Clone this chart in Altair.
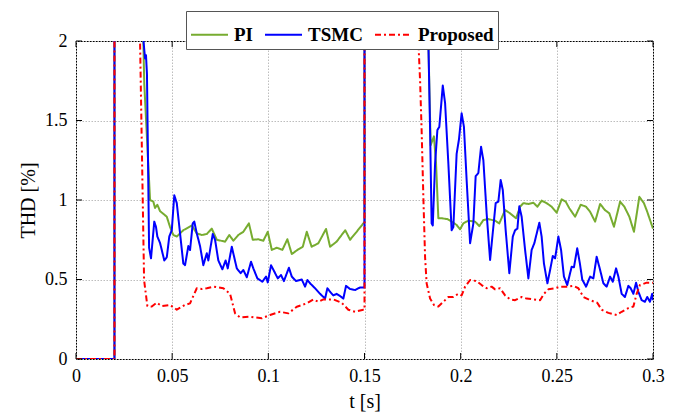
import altair as alt
import pandas as pd

OFF = 3.0  # above the visible range (clipped)
SERIF = "Liberation Serif"

series_names = ["PI", "TSMC", "Proposed"]
series_colors = ["#77AC30", "#0000FF", "#FF0000"]
series_dash = [[1, 0], [1, 0], [6, 3, 2, 3]]

pi_t = [0, 0.02, 0.02, 0.0347, 0.0350, 0.0355, 0.0385, 0.0402, 0.0411, 0.0423, 0.0437, 0.0472, 0.0489, 0.0506,
        0.0524, 0.0558, 0.0602, 0.0628, 0.0654, 0.0680, 0.0706, 0.0732, 0.0775, 0.0797, 0.0818, 0.0844, 0.0870,
        0.0899, 0.0919, 0.0948, 0.0974, 0.0997, 0.1018, 0.1044, 0.1073, 0.1099, 0.1122, 0.1156, 0.1179, 0.1200,
        0.1225, 0.1260, 0.1300, 0.1321, 0.1355, 0.1400, 0.1425, 0.1459, 0.1494, 0.15, 0.15,
        0.1828, 0.1832, 0.1844, 0.1861, 0.1872, 0.1884, 0.1901, 0.1931, 0.1953, 0.1979, 0.1997, 0.2014, 0.2040,
        0.2075, 0.2097, 0.2118, 0.2144, 0.2179, 0.2201, 0.2231, 0.2257, 0.2288, 0.2309, 0.2326, 0.2352, 0.2378,
        0.2399, 0.2421, 0.2447, 0.2473, 0.2499, 0.2525, 0.2546, 0.2565, 0.2595, 0.2624, 0.2652, 0.2673, 0.2699,
        0.2725, 0.2750, 0.2773, 0.2797, 0.2829, 0.2851, 0.2877, 0.2901, 0.2929, 0.2953, 0.2970, 0.3000]
pi_v = [0, 0, OFF, OFF, 2.0, 1.73, 1.0, 0.99, 0.95, 0.97, 0.93, 0.895, 0.83, 0.78,
        0.77, 0.81, 0.84, 0.79, 0.78, 0.786, 0.82, 0.75, 0.738, 0.78, 0.744, 0.78, 0.80,
        0.853, 0.75, 0.753, 0.744, 0.80, 0.686, 0.70, 0.686, 0.753, 0.66, 0.69, 0.706, 0.80,
        0.706, 0.728, 0.818, 0.706, 0.738, 0.81, 0.75, 0.80, 0.853, 0.86, OFF,
        OFF, 2.0, 1.345, 1.40, 1.23, 0.885, 0.885, 0.88, 0.864, 0.843, 0.816, 0.853, 0.87,
        0.864, 0.836, 0.874, 0.88, 0.87, 0.853, 0.937, 0.916, 0.885, 0.958, 0.98, 0.975, 0.983,
        0.958, 0.996, 0.98, 0.958, 0.92, 1.004, 0.99, 0.948, 0.895, 0.97, 0.958, 0.926, 0.864,
        0.975, 0.937, 0.916, 0.832, 0.99, 0.958, 0.895, 0.80, 1.02, 0.98, 0.926, 0.82]

tsmc_t = [0, 0.02, 0.02, 0.0347, 0.0351, 0.0359, 0.0364, 0.0369, 0.0380, 0.0390, 0.0407, 0.0416, 0.0423, 0.0437,
          0.0459, 0.0472, 0.0485, 0.0498, 0.0511, 0.0524, 0.0541, 0.0558, 0.0567, 0.0584, 0.0593, 0.0607, 0.0615,
          0.0628, 0.0645, 0.0662, 0.0680, 0.0688, 0.0711, 0.0723, 0.0740, 0.0761, 0.0778, 0.0789, 0.0810, 0.0822,
          0.0836, 0.0856, 0.0870, 0.0888, 0.0910, 0.0922, 0.0943, 0.0969, 0.0988, 0.0997, 0.1014, 0.1031, 0.1049,
          0.1066, 0.1081, 0.1107, 0.1122, 0.1144, 0.1174, 0.1191, 0.1203, 0.1217, 0.1243, 0.1269, 0.1295, 0.1307,
          0.1321, 0.1338, 0.1355, 0.1373, 0.1390, 0.1404, 0.1425, 0.1451, 0.1477, 0.1494, 0.15, 0.15,
          0.1829, 0.1832, 0.1841, 0.1849, 0.1855, 0.1867, 0.1879, 0.1889, 0.1907, 0.1919, 0.1936, 0.1953, 0.1962,
          0.1979, 0.1991, 0.2005, 0.2017, 0.2031, 0.2049, 0.2066, 0.2078, 0.2092, 0.2106, 0.2118, 0.2135, 0.2153,
          0.2170, 0.2182, 0.2196, 0.2208, 0.2219, 0.2234, 0.2253, 0.2271, 0.2283, 0.2295, 0.2305, 0.2317, 0.2335,
          0.2352, 0.2369, 0.2383, 0.2409, 0.2421, 0.2433, 0.2451, 0.2465, 0.2479, 0.2491, 0.2508, 0.2522, 0.2537,
          0.2554, 0.2577, 0.2589, 0.2606, 0.2620, 0.2632, 0.2652, 0.2673, 0.2690, 0.2707, 0.2725, 0.2742, 0.2759,
          0.2777, 0.2791, 0.2808, 0.2820, 0.2837, 0.2854, 0.2872, 0.2884, 0.2898, 0.2912, 0.2924, 0.2941, 0.2958,
          0.2970, 0.2984, 0.2996, 0.3000]
tsmc_v = [0, 0, OFF, OFF, 2.0, 1.89, 1.91, 1.79, 0.70, 0.633, 0.864, 0.83, 0.77, 0.73,
          0.62, 0.64, 0.77, 0.81, 1.03, 0.98, 0.79, 0.60, 0.59, 0.71, 0.685, 0.853, 0.864,
          0.79, 0.71, 0.59, 0.665, 0.62, 0.786, 0.75, 0.62, 0.564, 0.62, 0.57, 0.706, 0.643,
          0.57, 0.54, 0.56, 0.514, 0.612, 0.57, 0.507, 0.486, 0.518, 0.482, 0.59, 0.55, 0.507,
          0.528, 0.49, 0.574, 0.518, 0.49, 0.50, 0.455, 0.497, 0.476, 0.445, 0.41, 0.38, 0.445,
          0.423, 0.40, 0.41, 0.396, 0.38, 0.46, 0.44, 0.434, 0.45, 0.45, 0.45, OFF,
          OFF, 2.0, 1.44, 0.853, 0.84, 1.23, 1.44, 1.46, 1.72, 1.61, 1.23, 0.81, 0.83,
          1.29, 1.38, 1.545, 1.46, 1.126, 0.728, 0.853, 1.15, 1.17, 1.335, 1.25, 0.916, 0.623,
          0.832, 0.98, 0.99, 1.126, 1.063, 0.81, 0.54, 0.77, 0.81, 0.82, 0.96, 0.895, 0.686,
          0.507, 0.686, 0.728, 0.857, 0.77, 0.60, 0.476, 0.56, 0.648, 0.633, 0.77, 0.686, 0.518,
          0.465, 0.58, 0.577, 0.696, 0.60, 0.50, 0.455, 0.518, 0.507, 0.643, 0.56, 0.476, 0.455,
          0.518, 0.486, 0.57, 0.518, 0.41, 0.39, 0.46, 0.445, 0.41, 0.48, 0.423, 0.37, 0.36,
          0.39, 0.36, 0.41, 0.37]

prop_t = [0, 0.02, 0.02, 0.0319, 0.0333, 0.0354, 0.0371, 0.0394, 0.0420, 0.0446, 0.0489, 0.0524, 0.0567, 0.0593,
          0.0628, 0.0654, 0.0680, 0.0714, 0.0766, 0.0801, 0.0827, 0.0853, 0.0905, 0.0966, 0.1009, 0.1061, 0.1104,
          0.1148, 0.1200, 0.1234, 0.1260, 0.1286, 0.1338, 0.1381, 0.1416, 0.1451, 0.1494, 0.15, 0.15,
          0.1745, 0.1780, 0.1789, 0.1797, 0.1806, 0.1815, 0.1823, 0.1841, 0.1861, 0.1884, 0.1910, 0.1936, 0.1962,
          0.1988, 0.2005, 0.2023, 0.2049, 0.2083, 0.2109, 0.2135, 0.2161, 0.2179, 0.2205, 0.2231, 0.2257, 0.2283,
          0.2317, 0.2343, 0.2378, 0.2413, 0.2433, 0.2456, 0.2491, 0.2517, 0.2551, 0.2586, 0.2612, 0.2638, 0.2673,
          0.2710, 0.2733, 0.2768, 0.2811, 0.2837, 0.2872, 0.2898, 0.2915, 0.2932, 0.2967, 0.3000]
prop_v = [0, 0, OFF, OFF, 2.0, 0.497, 0.333, 0.33, 0.354, 0.333, 0.34, 0.31, 0.34, 0.35,
          0.445, 0.44, 0.445, 0.455, 0.445, 0.41, 0.287, 0.262, 0.266, 0.256, 0.277, 0.297, 0.287,
          0.329, 0.35, 0.375, 0.36, 0.375, 0.375, 0.354, 0.31, 0.297, 0.31, 0.31, OFF,
          OFF, 2.0, 1.75, 1.44, 1.02, 0.64, 0.476, 0.38, 0.34, 0.33, 0.36, 0.39, 0.39,
          0.41, 0.40, 0.455, 0.497, 0.49, 0.465, 0.445, 0.455, 0.438, 0.445, 0.40, 0.375, 0.37,
          0.39, 0.38, 0.375, 0.37, 0.41, 0.438, 0.445, 0.455, 0.455, 0.46, 0.445, 0.39, 0.37,
          0.354, 0.31, 0.29, 0.277, 0.297, 0.32, 0.33, 0.41, 0.465, 0.48, 0.48]

x_ticks = [0, 0.05, 0.1, 0.15, 0.2, 0.25, 0.3]
y_ticks = [0, 0.5, 1, 1.5, 2]

for a, b in [(pi_t, pi_v), (tsmc_t, tsmc_v), (prop_t, prop_v)]:
    assert len(a) == len(b), (len(a), len(b))

rows = []
for name, ts, vs in zip(series_names, [pi_t, tsmc_t, prop_t], [pi_v, tsmc_v, prop_v]):
    for i, (t, v) in enumerate(zip(ts, vs)):
        rows.append({"series": name, "t": t, "thd": v, "i": i})
df = pd.DataFrame(rows)

# inward tick marks (MATLAB style), length in data units
TX = 0.3 * 6 / 577
TY = 2.0 * 6 / 318
tick_rows = []
for t in x_ticks:
    tick_rows.append({"t": t, "t2": t, "thd": 0, "thd2": TY})
    tick_rows.append({"t": t, "t2": t, "thd": 2, "thd2": 2 - TY})
for y in y_ticks:
    tick_rows.append({"t": 0, "t2": TX, "thd": y, "thd2": y})
    tick_rows.append({"t": 0.3, "t2": 0.3 - TX, "thd": y, "thd2": y})
ticks_df = pd.DataFrame(tick_rows)

axis_style = dict(labelFont=SERIF, labelFontSize=18, labelColor="black",
                  titleFont=SERIF, titleFontSize=20, titleFontWeight="normal", titleColor="black",
                  domain=False, ticks=False, grid=True, gridColor="#bdbdbd", gridDash=[1.5, 1.5], gridWidth=1)

x_enc = alt.X("t:Q", scale=alt.Scale(domain=[0, 0.3], nice=False, zero=False),
              axis=alt.Axis(values=x_ticks, format="~g", title="t [s]", labelPadding=8,
                            titlePadding=6, labelFlush=False, **axis_style))
y_enc = alt.Y("thd:Q", scale=alt.Scale(domain=[0, 2], nice=False),
              axis=alt.Axis(values=y_ticks, format="~g", title="THD [%]", labelPadding=9,
                            titlePadding=6, **axis_style))

legend = alt.Legend(title=None, orient="none", legendX=110, legendY=-30, direction="horizontal",
                    symbolType="stroke", symbolSize=1369, symbolStrokeWidth=2,
                    labelFont=SERIF, labelFontSize=19, labelFontWeight="bold",
                    labelColor="black", labelOffset=5, columnPadding=8, padding=4,
                    strokeColor="#555555", fillColor="white", cornerRadius=0)

color_enc = alt.Color("series:N", scale=alt.Scale(domain=series_names, range=series_colors), legend=legend)
dash_enc = alt.StrokeDash("series:N", scale=alt.Scale(domain=series_names, range=series_dash), legend=legend)

layers = []
for name in series_names:
    layers.append(
        alt.Chart(df).transform_filter(alt.datum.series == name)
        .mark_line(clip=True, strokeWidth=2, strokeJoin="round")
        .encode(x=x_enc, y=y_enc, color=color_enc, strokeDash=dash_enc, order=alt.Order("i:Q"))
    )

tick_layer = alt.Chart(ticks_df).mark_rule(color="black", strokeWidth=1).encode(
    x=x_enc, x2=alt.X2("t2"), y=y_enc, y2=alt.Y2("thd2"))

chart = alt.layer(*layers, tick_layer).properties(
    width=577, height=318,
    autosize=alt.AutoSizeParams(type="none"),
    padding={"left": 76, "top": 41, "right": 29, "bottom": 56},
    background="white",
).configure_view(
    stroke="black", strokeWidth=1
)

chart.save("out.html", embed_options={"renderer": "svg", "actions": False})
